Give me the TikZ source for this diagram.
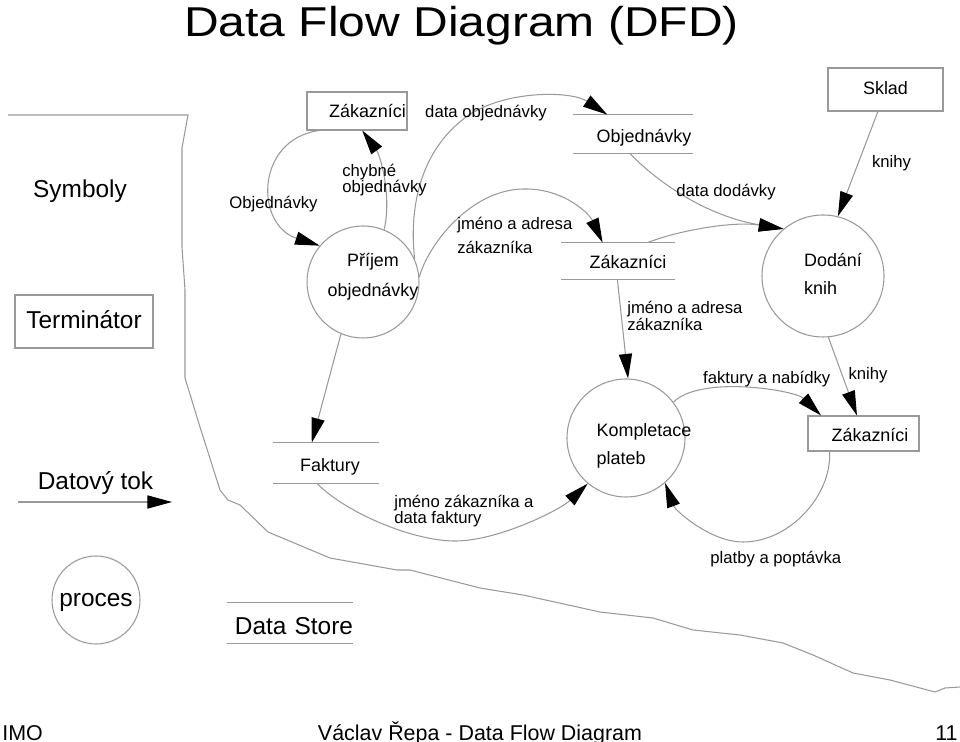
\documentclass[tikz,border=0pt]{standalone}
\usepackage{fontspec}
\setmainfont{Liberation Sans}
\newfontfamily\titlefont{Liberation Sans}[FakeStretch=1.15]
\usepackage{tikz}
\usetikzlibrary{arrows.meta}

\newlength{\pxu}
\setlength{\pxu}{0.02cm}
\lineskiplimit=-20pt
\newcommand{\indt}[1]{\hspace*{#1\pxu}}
\newcommand{\lgdfont}{\fontsize{13.9}{16}\selectfont}
\newcommand{\nodefont}{\fontsize{10.2}{16}\selectfont}
\newcommand{\flowfont}{\fontsize{9.5}{9.4}\selectfont}
\newcommand{\footfont}{\fontsize{12.2}{14}\selectfont}
\definecolor{linegray}{gray}{0.6}

\begin{document}
\begin{tikzpicture}[x=0.02cm,y=-0.02cm,
  >={Triangle[length=14pt,width=7.5pt,color=black]},
  ln/.style={draw=linegray,line width=0.6pt},
  termbox/.style={draw=linegray,line width=0.6pt,rectangle,inner sep=0pt,font=\nodefont,text depth=0pt},
  proc/.style={draw=linegray,line width=0.6pt,circle,inner sep=0pt},
  ptext/.style={font=\nodefont,inner sep=0pt,text=black},
  store/.style={inner sep=0pt,font=\nodefont,text depth=0pt},
  flowlbl/.style={font=\flowfont,inner sep=0pt},
  lgd/.style={font=\lgdfont,inner sep=0pt},
  foot/.style={font=\footfont,inner sep=0pt}]
  \useasboundingbox (0,0) rectangle (960,742);

  \node(title)[font=\titlefont\fontsize{23.75}{28}\selectfont,inner sep=0pt,anchor=base] at (461.5,37) {Data Flow Diagram (DFD)};

  % separator
  \draw[ln] (8,115) -- (188,115) -- (182,148) -- (182,247) -- (185,290) -- (185,378) -- (200,427)
    -- (220,490) -- (228,500) -- (240,505) -- (268,532) -- (330,558) -- (397,570) -- (410,570)
    -- (480,588) -- (523,595) -- (600,612) -- (653,618) -- (693,630) -- (740,635) -- (783,643)
    -- (813,655) -- (853,673) -- (890,680) -- (935,692) -- (945,688) -- (960,687);

  % legend
  \node(sym)[lgd,anchor=base] at (80,197.5) {Symboly};
  \node(term)[termbox,font=\lgdfont,text height=13.2\pxu,minimum width=138\pxu,minimum height=53\pxu] at (84,321.5) {Terminátor};
  \node(tok)[lgd,anchor=base] at (95.5,489.7) {Datový tok};
  \coordinate(tokA) at (18,502);
  \coordinate(tokB) at (172,502);
  \node(proces)[proc,font=\lgdfont,text height=12.8\pxu,text depth=0pt,minimum size=88\pxu] at (96,600) {proces};
  \node(dstore)[store,font=\lgdfont,text height=23.4\pxu,minimum height=40\pxu,text width=126\pxu,align=right] at (290,623) {Data Store};

  \draw [ln,->] (tokA) -- (tokB);

  % diagram
  \node(zak1)[termbox,text height=14\pxu,minimum width=100\pxu,minimum height=38\pxu] at (357,111) {\indt{21}Zákazníci};
  \node(prijem)[proc,minimum size=112\pxu,label={[ptext,align=center,xshift=10\pxu,yshift=5\pxu,name=prijemT]center:Příjem\\[1.1pt]objednávky}] at (363,282) {};
  \node(fakt)[store,text height=16.8\pxu,minimum width=106\pxu,minimum height=40\pxu] at (326,463) {\indt{8}Faktury};
  \node(obj)[store,text height=16.8\pxu,minimum width=120\pxu,minimum height=38\pxu] at (633,134) {\indt{22}Objednávky};
  \node(zak2)[store,text height=16\pxu,minimum width=113\pxu,minimum height=36\pxu] at (618,261) {\indt{20}Zákazníci};
  \node(sklad)[termbox,text height=10.4\pxu,minimum width=115\pxu,minimum height=43\pxu] at (885.5,89.5) {Sklad};
  \node(dodani)[proc,minimum size=122\pxu,label={[ptext,align=left,xshift=10\pxu,yshift=2\pxu,name=dodaniT]center:Dodání\\knih}] at (823,276) {};
  \node(komp)[proc,minimum size=118\pxu,label={[ptext,align=left,xshift=18\pxu,yshift=-8\pxu,name=kompT]center:Kompletace\\plateb}] at (626,438) {};
  \node(zak3)[termbox,text height=15.8\pxu,minimum width=111\pxu,minimum height=35\pxu] at (863.5,433.5) {\indt{13}Zákazníci};

  % store lines
  \draw[ln] (dstore.north west) -- (dstore.north east) (dstore.south west) -- (dstore.south east);
  \draw[ln] (fakt.north west) -- (fakt.north east) (fakt.south west) -- (fakt.south east);
  \draw[ln] (obj.north west) -- (obj.north east) (obj.south west) -- (obj.south east);
  \draw[ln] (zak2.north west) -- (zak2.north east) (zak2.south west) -- (zak2.south east);

  % flows
  \draw [ln,->] (zak1.207) .. controls (255,140) and (255,225) .. (prijem.140);
  \draw [ln,->] (prijem.68) .. controls (392,195) and (380,155) .. (zak1.285);
  \draw [ln,->] (prijem.24) .. controls (408,200) and (425,150) .. (461,121) .. controls (497,90) and (570,90) .. (obj.143);
  \draw [ln,->] (prijem.5) .. controls (428,245) and (470,190) .. (523,189) .. controls (565,188) and (590,215) .. (zak2.130);
  \draw [ln,->] (obj.261) .. controls (650,175) and (700,215) .. (dodani.130);
  \draw [ln,->] (zak2.32) .. controls (680,230) and (734,221) .. (dodani.130);
  \draw [ln,->] (sklad.251) -- (dodani.76);
  \draw [ln,->] (prijem.247) -- (fakt.125);
  \draw [ln,->] (fakt.246) .. controls (345,512) and (410,540) .. (453,541) .. controls (496,542) and (560,510) .. (komp.230);
  \draw [ln,->] (zak2.268) -- (komp.88);
  \draw [ln,->] (komp.37) .. controls (700,375) and (795,390) .. (zak3.157);
  \draw [ln,->] (dodani.275) -- (zak3.110);
  \draw [ln,->] (zak3.208) .. controls (832,495) and (790,542) .. (743,542) .. controls (710,542) and (675,510) .. (komp.311);

  % flow labels
  \node(lObj)[flowlbl,anchor=base] at (273.5,208.7) {Objednávky};
  \node(lChyb)[flowlbl,anchor=west,align=left] at (342,180) {chybné\\objednávky};
  \node(lDataObj)[flowlbl,anchor=base] at (486,117.7) {data objednávky};
  \node(lJmeno1)[flowlbl,anchor=west,align=left] at (457,235) {jméno a adresa\\[4.3pt]zákazníka};
  \node(lDataDod)[flowlbl,anchor=base] at (726,196.7) {data dodávky};
  \node(lKnihy1)[flowlbl,anchor=base] at (891.5,167.7) {knihy};
  \node(lJmeno2)[flowlbl,anchor=west,align=left] at (627,316) {jméno a adresa\\zákazníka};
  \node(lFakNab)[flowlbl,anchor=base] at (766.7,383.7) {faktury a nabídky};
  \node(lKnihy2)[flowlbl,anchor=base] at (868,379.4) {knihy};
  \node(lJmenoFak)[flowlbl,anchor=west,align=left] at (394,511) {jméno zákazníka a\\data faktury};
  \node(lPlatby)[flowlbl,anchor=base] at (775.8,563.4) {platby a poptávka};

  % footer
  \node(imo)[foot,anchor=base west] at (2,740) {IMO};
  \node(autor)[foot,anchor=base] at (480,740) {Václav Řepa - Data Flow Diagram};
  \node(strana)[foot,anchor=base east] at (958,740) {11};
\end{tikzpicture}
\end{document}
